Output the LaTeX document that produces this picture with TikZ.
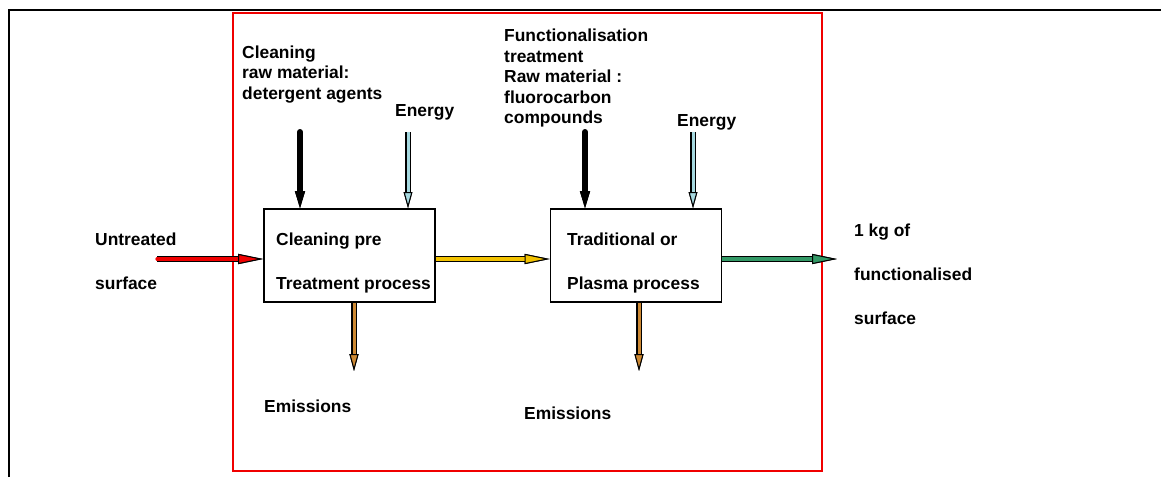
\documentclass[tikz,border=0pt]{standalone}
\usepackage{fontspec}
\setmainfont{Liberation Sans}
\usetikzlibrary{arrows.meta}
\definecolor{cred}{HTML}{F00000}
\definecolor{cyel}{HTML}{F2C200}
\definecolor{cgreen}{HTML}{339966}
\definecolor{cbrown}{HTML}{CC8833}
\definecolor{cblue}{HTML}{A6D9E0}
\tikzset{
  fat/.style n args={5}{line width=#2, draw=#1,
    preaction={draw=black, line width=#3},
    -{Triangle[length=#4, width=#5, fill=#1, color=black, line width=1pt]}},
  procbox/.style={draw=black, line width=1.6pt, minimum width=171pt, minimum height=93pt, inner sep=0pt},
  lbl/.style={anchor=north west, inner sep=0pt, align=left, font=\fontsize{17.4}{20.5}\selectfont\bfseries},
  lblwide/.style={anchor=north west, inner sep=0pt, align=left, font=\fontsize{17.4}{44}\selectfont\bfseries},
}
\begin{document}
\begin{tikzpicture}[x=1pt,y=-1pt]
\useasboundingbox (0,0) rectangle (1161,477);
% frames
\draw[line width=2pt] (9,477) -- (9,10) -- (1161,10);
\draw[cred, line width=2pt] (233,13) rectangle (822,471);
% boxes
\node[procbox] (box1) at (349.5,255.5) {};
\node[procbox] (box2) at (636,255.5) {};
% texts
\node[lbl] (t1) at (242,45.4) {Cleaning\\raw material:\\detergent agents};
\node[lbl] (en1) at (395,104.6) {Energy};
\node[lbl] (t2) at (504,29.1) {Functionalisation\\treatment\\Raw material :\\fluorocarbon\\compounds};
\node[lbl] (en2) at (677,114.6) {Energy};
\node[lblwide] (unt) at (95,232.4) {Untreated\\surface};
\node[lblwide] (b1t) at (276,232.4) {Cleaning pre\\Treatment process};
\node[lblwide] (b2t) at (567,232.4) {Traditional or\\Plasma process};
\node[lblwide] (out) at (854,223.4) {1 kg of\\functionalised\\surface};
\node[lbl] (em1) at (264,399.6) {Emissions};
\node[lbl] (em2) at (524,406.6) {Emissions};
% coordinates
\coordinate (rs) at (157,259);
\coordinate (ge) at (837,259);
\coordinate (r1) at (300,132);
\coordinate (e1) at (408,132);
\coordinate (r2) at (585,132);
\coordinate (e2) at (693,132);
\coordinate (m1) at (354,371);
\coordinate (m2) at (639,371);
% arrows
\draw[fat={cred}{3.2pt}{5.6pt}{25pt}{10pt}, line cap=round] (rs) -- (rs -| box1.west);
\draw[fat={cyel}{3.2pt}{5.6pt}{25pt}{10pt}] (box1.east |- rs) -- (box2.west |- rs);
\draw[fat={cgreen}{3.2pt}{5.6pt}{25pt}{10pt}] (box2.east |- rs) -- (ge);
\draw[fat={black}{6pt}{6pt}{17pt}{10pt}, line cap=round] (r1) -- (r1 |- box1.north);
\draw[fat={black}{6pt}{6pt}{17pt}{10pt}, line cap=round] (r2) -- (r2 |- box2.north);
\draw[fat={cblue}{3pt}{5.4pt}{16pt}{8.5pt}] (e1) -- (e1 |- box1.north);
\draw[fat={cblue}{3pt}{5.4pt}{16pt}{8.5pt}] (e2) -- (e2 |- box2.north);
\draw[fat={cbrown}{3pt}{5.4pt}{17pt}{9pt}] (m1 |- box1.south) -- (m1);
\draw[fat={cbrown}{3pt}{5.4pt}{17pt}{9pt}] (m2 |- box2.south) -- (m2);
\end{tikzpicture}
\end{document}
